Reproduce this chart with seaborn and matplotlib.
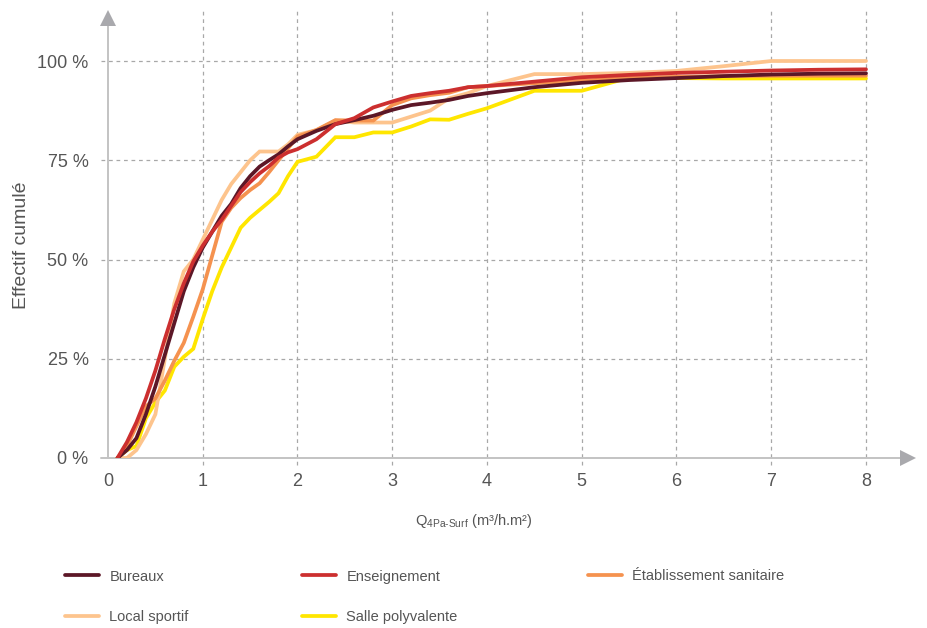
import matplotlib
matplotlib.use("Agg")
import matplotlib.pyplot as plt
import seaborn as sns
import pandas as pd
from matplotlib.lines import Line2D

# ---------------- data ----------------
x_steps = [0.1, 0.2, 0.3, 0.4, 0.5, 0.6, 0.7, 0.8, 0.9, 1.0,
           1.1, 1.2, 1.3, 1.4, 1.5, 1.6, 1.7, 1.8, 1.9, 2.0,
           2.2, 2.4, 2.6, 2.8, 3.0, 3.2, 3.4, 3.6, 3.8, 4.0,
           4.5, 5.0, 5.5, 6.0, 6.5, 7.0, 7.5, 8.0]

bureaux = [0, 2, 5, 11, 18, 26, 34, 42, 48, 53,
           57, 61, 64, 68, 71, 73.4, 75, 76.5, 78.5, 80.3,
           82.4, 84.1, 85.1, 86.2, 87.7, 88.9, 89.5, 90.2, 91.2, 91.9,
           93.4, 94.5, 95.2, 95.7, 96.2, 96.6, 96.8, 96.9]
enseignement = [0, 4, 9, 15, 22, 30, 37.5, 44, 49.5, 53.5,
                57, 60, 63.5, 67, 69.5, 71.7, 73.5, 75.7, 77, 77.8,
                80.3, 84.1, 85.6, 88.3, 89.8, 91.2, 91.9, 92.5, 93.4, 93.7,
                94.8, 95.9, 96.5, 97.0, 97.3, 97.6, 97.8, 97.9]
sanitaire = [0, 3, 8, 13, 15, 19.5, 24.5, 29, 35.6, 42.5,
             51, 59.5, 63, 65.5, 67.5, 69.2, 72, 75, 78, 81,
             82.6, 85.1, 85.0, 85.0, 88.9, 90.6, 91.4, 92.0, 93.4, 93.7,
             94.4, 95.0, 95.8, 96.0, 96.2, 96.3, 96.3, 96.3]
sportif = [0, 0, 2, 6, 11, 25, 39, 47, 50, 55,
           60, 65, 69, 72, 75, 77.2, 77.2, 77.2, 79, 81.4,
           82.6, 85.0, 84.5, 84.5, 84.5, 86.0, 87.5, 90.6, 91.9, 93.7,
           96.7, 96.7, 97.0, 97.5, 98.7, 100, 100, 100]
polyvalente = [0, 2, 3, 10, 14, 17, 23, 25.5, 27.5, 35,
               42, 48, 53, 58, 60.5, 62.5, 64.5, 66.7, 71, 74.6,
               75.9, 80.8, 80.8, 82.0, 82.0, 83.5, 85.3, 85.2, 86.7, 88.1,
               92.5, 92.5, 95.8, 95.7, 95.6, 95.6, 95.6, 95.6]

series_names = ["Bureaux", "Enseignement", "Établissement sanitaire",
                "Local sportif", "Salle polyvalente"]
series_values = [bureaux, enseignement, sanitaire, sportif, polyvalente]
colors = ["#5c1727", "#cc2f2f", "#f5924f", "#fdc48d", "#ffe600"]
y_ticks = [0, 25, 50, 75, 100]
y_ticklabels = ["0 %", "25 %", "50 %", "75 %", "100 %"]
x_ticks = [0, 1, 2, 3, 4, 5, 6, 7, 8]

rows = []
for name, vals in zip(series_names, series_values):
    for xv, yv in zip(x_steps, vals):
        rows.append({"Q": xv, "Effectif": yv, "Type": name})
df = pd.DataFrame(rows)

# ---------------- figure ----------------
sns.set_style("white")
plt.rcParams["font.family"] = ["Liberation Sans", "DejaVu Sans"]

W, H = 928, 628
fig = plt.figure(figsize=(W / 100, H / 100), dpi=100)
px0, px_right, py0, py_top = 108, 908, 458, 18
ax = fig.add_axes([px0 / W, (H - py0) / H, (px_right - px0) / W, (py0 - py_top) / H])

ppx = (866 - 108) / 8.0
ppy = (458 - 61) / 100.0
xmax = (px_right - px0) / ppx
ymax = (py0 - py_top) / ppy
ax.set_xlim(0, xmax)
ax.set_ylim(0, ymax)

grid_c = "#a8a8a8"
ax.hlines([25, 50, 75, 100], -0.075, 8, colors=grid_c, linestyles=(0, (3, 3)),
          linewidth=0.9, clip_on=False, zorder=1)
ax.vlines([1, 2, 3, 4, 5, 6, 7, 8], -1.8, (458 - 8) / ppy, colors=grid_c,
          linestyles=(0, (3, 3)), linewidth=0.9, clip_on=False, zorder=1)

order = ["Salle polyvalente", "Local sportif", "Établissement sanitaire",
         "Bureaux", "Enseignement"]
pal = dict(zip(series_names, colors))
for name in order:
    sub = df[df["Type"] == name]
    sns.lineplot(data=sub, x="Q", y="Effectif", color=pal[name], linewidth=2.7,
                 estimator=None, sort=False, ax=ax, legend=False, zorder=3,
                 solid_joinstyle="miter")

# spines / arrows
spine_c = "#c3c3c3"
for s in ["top", "right"]:
    ax.spines[s].set_visible(False)
for s in ["left", "bottom"]:
    ax.spines[s].set_color(spine_c)
    ax.spines[s].set_linewidth(1.4)
ax.plot([-0.075, 0], [0, 0], color=spine_c, lw=1.4, clip_on=False)
ax.plot([0], [ymax], marker="^", markersize=11, color="#a9a9ad",
        clip_on=False, zorder=5, markeredgewidth=0)
ax.plot([xmax], [0], marker=">", markersize=11, color="#a9a9ad",
        clip_on=False, zorder=5, markeredgewidth=0)

ax.set_xticks(x_ticks)
ax.set_xticklabels([str(v) for v in x_ticks])
ax.set_yticks(y_ticks)
ax.set_yticklabels(y_ticklabels)
ax.tick_params(axis="x", length=0, pad=11, labelsize=13, labelcolor="#555555")
ax.tick_params(axis="y", length=0, pad=14, labelsize=13, labelcolor="#555555")
ax.set_xlabel("")
ax.set_ylabel("")

fig.text(22 / W, 1 - 245 / H, "Effectif cumulé", rotation=90, ha="center", va="center",
         fontsize=14, color="#555555")
fig.text(474 / W, 1 - 521 / H, "Q$_{\\mathregular{4Pa‐Surf}}$ (m³/h.m²)", ha="center",
         va="center", fontsize=10.5, color="#555555")

# legend (three columns placed explicitly)
def handle(c):
    return Line2D([0], [0], color=c, lw=2.7)

cols = [(65, ["Bureaux", "Local sportif"], 597),
        (302, ["Enseignement", "Salle polyvalente"], 597),
        (588, ["Établissement sanitaire"], 576)]
for xpx, names, ycen in cols:
    fig.legend([handle(pal[n]) for n in names], names, loc="center left",
               bbox_to_anchor=(xpx / W, 1 - ycen / H), frameon=False,
               borderpad=0, borderaxespad=0, handlelength=2.3, handletextpad=0.75,
               labelspacing=1.85, fontsize=10.5, labelcolor="#555555")

fig.savefig("out.png", dpi=100)
